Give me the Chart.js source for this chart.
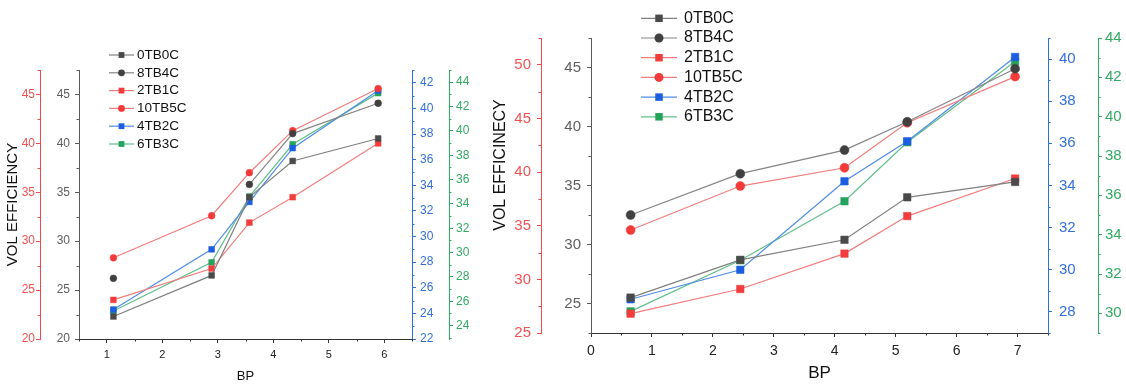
<!DOCTYPE html>
<html>
<head>
<meta charset="utf-8">
<script src="https://cdn.jsdelivr.net/npm/chart.js"></script>
<style>
  html, body { margin: 0; padding: 0; background: #fff; }
  body { width: 1126px; height: 384px; position: relative; overflow: hidden; }
  .box { position: absolute; top: 0; height: 384px; }
  #left { left: 0; width: 480px; }
  #right { left: 480px; width: 646px; }
</style>
</head>
<body>
<div class="box" id="left"><canvas id="leftChart"></canvas></div>
<div class="box" id="right"><canvas id="rightChart"></canvas></div>
<script>
"use strict";

// Series names, same order in both panels
const seriesNames = ["0TB0C", "8TB4C", "2TB1C", "10TB5C", "4TB2C", "6TB3C"];

// Left panel values (BP on x, vol efficiency on four y axes)
const leftBP = [1.12, 2.89, 3.57, 4.35, 5.89];
const left0TB0C = [22.3, 26.5, 34.5, 38.2, 40.5];
const left8TB4C = [26.2, null, 35.8, 41.0, 44.1];
const left2TB1C = [24.0, 27.2, 31.9, 34.5, 40.0];
const left10TB5C = [28.3, 32.6, 37.0, 41.3, 45.6];
const left4TB2C = [24.3, 29.0, 32.7, 36.9, 41.4];
const left6TB3C = [25.2, 29.2, 34.6, 38.9, 43.1];

const leftXTicks = [1, 2, 3, 4, 5, 6];
const leftRedTicks = [20, 25, 30, 35, 40, 45];
const leftGreyTicks = [20, 25, 30, 35, 40, 45];
const leftBlueTicks = [22, 24, 26, 28, 30, 32, 34, 36, 38, 40, 42];
const leftGreenTicks = [24, 26, 28, 30, 32, 34, 36, 38, 40, 42, 44];

// Right panel values
const rightBP = [0.65, 2.45, 4.16, 5.19, 6.96];
const right0TB0C = [25.5, 28.7, 30.4, 34.0, 35.3];
const right8TB4C = [32.5, 36.0, 38.0, 40.4, 44.9];
const right2TB1C = [26.8, 29.1, 32.4, 35.9, 39.4];
const right10TB5C = [34.6, 38.7, 40.4, 44.6, 48.9];
const right4TB2C = [28.6, 30.0, 34.2, 36.1, 40.1];
const right6TB3C = [30.1, 32.7, 35.7, 38.7, 42.8];

const rightXTicks = [0, 1, 2, 3, 4, 5, 6, 7];
const rightRedTicks = [25, 30, 35, 40, 45, 50];
const rightGreyTicks = [25, 30, 35, 40, 45];
const rightBlueTicks = [28, 30, 32, 34, 36, 38, 40];
const rightGreenTicks = [30, 32, 34, 36, 38, 40, 42, 44];

const FONT = "'Liberation Sans', Arial, sans-serif";

// colours and which axis each series sits on
const seriesStyle = [
	{ line: "#808080", fill: "#4a4a4a", shape: "rect", axis: "yGrey" },
	{ line: "#858585", fill: "#404040", shape: "circle", axis: "yGrey" },
	{ line: "#f27d7d", fill: "#f23d3d", shape: "rect", axis: "yRed" },
	{ line: "#f27d7d", fill: "#f33a3a", shape: "circle", axis: "yRed" },
	{ line: "#4f8ce6", fill: "#1b5fe0", shape: "rect", axis: "yBlue" },
	{ line: "#62bf8a", fill: "#26a35b", shape: "rect", axis: "yGreen" },
];

const axisColor = {
	yRed: { line: "#f04a4a", text: "#f25252" },
	yGrey: { line: "#5a5a5a", text: "#5f5f5f" },
	yBlue: { line: "#2f6fe0", text: "#3370da" },
	yGreen: { line: "#2fae63", text: "#33a964" },
	x: { line: "#333333", text: "#222222" },
};

function drawMarker(ctx, shape, x, y, r, color) {
	ctx.fillStyle = color;
	ctx.beginPath();
	if (shape === "rect") {
		const s = r * Math.SQRT1_2;
		ctx.rect(x - s, y - s, 2 * s, 2 * s);
	} else {
		ctx.arc(x, y, r, 0, Math.PI * 2);
	}
	ctx.fill();
}

// legend drawn at a fixed place, partly above the plot like the original
const sideLegend = {
	id: "sideLegend",
	afterDraw(chart, args, opts) {
		const ctx = chart.ctx;
		ctx.save();
		chart.data.datasets.forEach(function (ds, i) {
			const y = opts.top + i * opts.gap;
			ctx.strokeStyle = ds.borderColor;
			ctx.lineWidth = 1.2;
			ctx.beginPath();
			ctx.moveTo(opts.x0, y);
			ctx.lineTo(opts.x1, y);
			ctx.stroke();
			drawMarker(ctx, ds.pointStyle, (opts.x0 + opts.x1) / 2, y, ds.pointRadius, ds.pointBackgroundColor);
			ctx.fillStyle = "#111";
			ctx.font = opts.size + "px " + FONT;
			ctx.textBaseline = "middle";
			ctx.textAlign = "left";
			ctx.fillText(ds.label, opts.textX, y);
		});
		ctx.restore();
	},
};

// half-step minor ticks between the major ones
const minorTicks = {
	id: "minorTicks",
	afterDraw(chart) {
		const ctx = chart.ctx;
		Object.values(chart.scales).forEach(function (scale) {
			const t = scale.ticks.map((k) => k.value);
			if (t.length < 2) return;
			const step = t[1] - t[0];
			ctx.save();
			ctx.strokeStyle = scale.options.border.color;
			ctx.lineWidth = 1;
			ctx.beginPath();
			for (let v = t[0] - step / 2; v <= scale.max + 1e-9; v += step) {
				if (v < scale.min - 1e-9) continue;
				const p = Math.round(scale.getPixelForValue(v)) + 0.5;
				if (scale.isHorizontal()) {
					ctx.moveTo(p, scale.top);
					ctx.lineTo(p, scale.top + 2.5);
				} else if (scale.position === "left") {
					ctx.moveTo(scale.right, p);
					ctx.lineTo(scale.right - 2.5, p);
				} else {
					ctx.moveTo(scale.left, p);
					ctx.lineTo(scale.left + 2.5, p);
				}
			}
			ctx.stroke();
			ctx.restore();
		});
	},
};

// rotated y title for the right panel (sits above the axis middle)
const yTitle = {
	id: "yTitle",
	afterDraw(chart, args, opts) {
		if (!opts.text) return;
		const ctx = chart.ctx;
		ctx.save();
		ctx.translate(opts.x, opts.y);
		ctx.rotate(-Math.PI / 2);
		ctx.fillStyle = "#111";
		ctx.font = opts.size + "px " + FONT;
		ctx.textAlign = "center";
		ctx.textBaseline = "middle";
		ctx.fillText(opts.text, 0, 0);
		ctx.restore();
	},
};

function makeAxis(id, a) {
	const c = axisColor[id];
	return {
		type: "linear",
		position: a.position,
		weight: a.weight || 0,
		min: a.min,
		max: a.max,
		afterBuildTicks: function (s) {
			s.ticks = a.ticks.map((v) => ({ value: v }));
		},
		afterFit: function (s) {
			if (a.position === "bottom") s.height = a.size;
			else s.width = a.size;
		},
		border: { display: true, color: c.line, width: 1 },
		grid: { display: true, drawOnChartArea: false, drawTicks: true, tickLength: 4, tickColor: c.line },
		ticks: {
			color: c.text,
			autoSkip: false,
			maxRotation: 0,
			padding: a.pad,
			font: { family: FONT, size: a.font },
		},
		title: a.title
			? {
					display: true,
					text: a.title,
					color: "#111",
					font: { family: FONT, size: a.titleSize },
					padding: { top: a.titlePad, bottom: a.titlePad },
			  }
			: { display: false },
	};
}

function buildDatasets(xs, seriesValues, sizes) {
	return seriesValues.map(function (ys, i) {
		const st = seriesStyle[i];
		return {
			label: seriesNames[i],
			data: xs.map((x, j) => ({ x: x, y: ys[j] })),
			yAxisID: st.axis,
			borderColor: st.line,
			borderWidth: 1.2,
			pointStyle: st.shape,
			pointRadius: st.shape === "rect" ? sizes.rect : sizes.circle,
			pointBackgroundColor: st.fill,
			pointBorderColor: st.fill,
			pointBorderWidth: 0.5,
			spanGaps: false,
			tension: 0,
		};
	});
}

function makeChart(canvasId, cfg) {
	new Chart(document.getElementById(canvasId), {
		type: "line",
		data: { datasets: buildDatasets(cfg.xs, cfg.series, cfg.marker) },
		plugins: [minorTicks, sideLegend, yTitle],
		options: {
			responsive: true,
			maintainAspectRatio: false,
			animation: false,
			events: [],
			layout: { padding: { top: cfg.top, left: 0, right: 0, bottom: 0 } },
			plugins: {
				legend: { display: false },
				tooltip: { enabled: false },
				sideLegend: cfg.legend,
				yTitle: cfg.yTitle || {},
			},
			scales: cfg.scales,
		},
	});
}

makeChart("leftChart", {
	xs: leftBP,
	series: [left0TB0C, left8TB4C, left2TB1C, left10TB5C, left4TB2C, left6TB3C],
	marker: { rect: 4.1, circle: 3.4 },
	top: 70,
	legend: { x0: 109, x1: 134, textX: 137, top: 55, gap: 17.8, size: 13.5 },
	scales: {
		x: makeAxis("x", { position: "bottom", min: 0.5, max: 6.5, ticks: leftXTicks, size: 45, pad: 5, font: 11,
			title: "BP", titleSize: 13, titlePad: 0 }),
		yRed: makeAxis("yRed", { position: "left", weight: 2, min: 20, max: 47.5, ticks: leftRedTicks, size: 40, pad: 1, font: 12,
			title: "VOL EFFICIENCY", titleSize: 15, titlePad: 4 }),
		yGrey: makeAxis("yGrey", { position: "left", weight: 1, min: 20, max: 47.5, ticks: leftGreyTicks, size: 39, pad: 5, font: 12 }),
		yBlue: makeAxis("yBlue", { position: "right", weight: 1, min: 22, max: 43, ticks: leftBlueTicks, size: 37, pad: 4, font: 12 }),
		yGreen: makeAxis("yGreen", { position: "right", weight: 2, min: 22.9, max: 45, ticks: leftGreenTicks, size: 31, pad: 3, font: 12 }),
	},
});

makeChart("rightChart", {
	xs: rightBP,
	series: [right0TB0C, right8TB4C, right2TB1C, right10TB5C, right4TB2C, right6TB3C],
	marker: { rect: 5.3, circle: 4.5 },
	top: 38,
	legend: { x0: 161, x1: 197, textX: 204, top: 18.3, gap: 19.7, size: 16 },
	yTitle: { text: "VOL EFFICINECY", x: 21, y: 165, size: 16 },
	scales: {
		x: makeAxis("x", { position: "bottom", min: 0, max: 7.5, ticks: rightXTicks, size: 51, pad: 6, font: 14,
			title: "BP", titleSize: 17, titlePad: 0 }),
		yRed: makeAxis("yRed", { position: "left", weight: 2, min: 25, max: 52.5, ticks: rightRedTicks, size: 61, pad: 6, font: 15 }),
		yGrey: makeAxis("yGrey", { position: "left", weight: 1, min: 22.5, max: 47.5, ticks: rightGreyTicks, size: 50, pad: 6, font: 15 }),
		yBlue: makeAxis("yBlue", { position: "right", weight: 1, min: 27, max: 41, ticks: rightBlueTicks, size: 50, pad: 7, font: 15 }),
		yGreen: makeAxis("yGreen", { position: "right", weight: 2, min: 29, max: 44, ticks: rightGreenTicks, size: 28, pad: 3, font: 15 }),
	},
});
</script>
</body>
</html>
